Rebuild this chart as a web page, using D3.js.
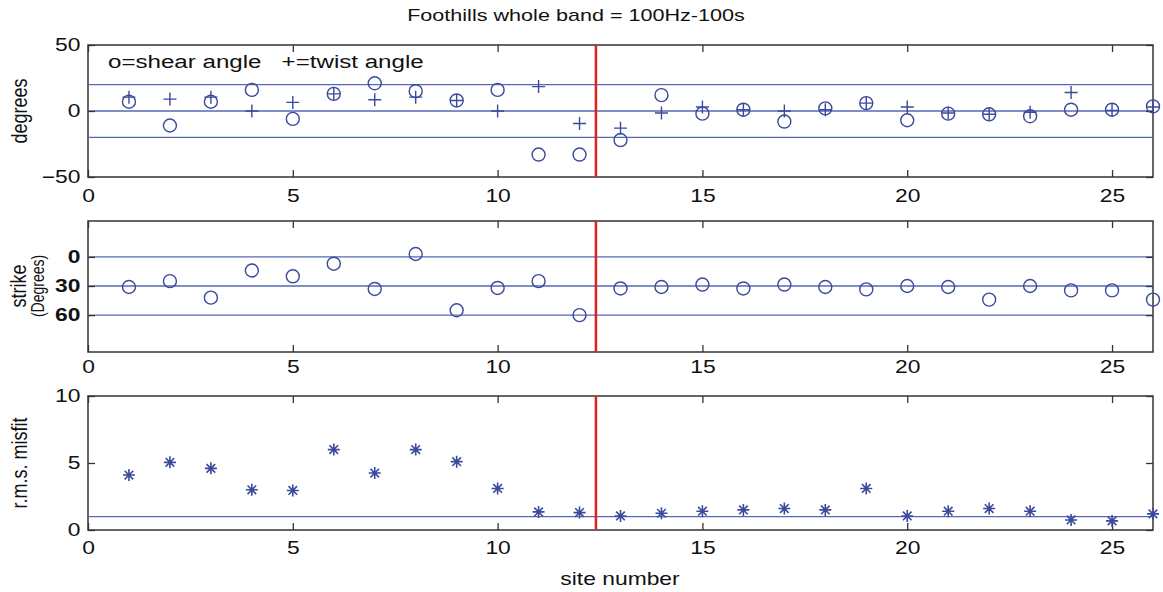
<!DOCTYPE html>
<html>
<head>
<meta charset="utf-8">
<script src="https://cdn.jsdelivr.net/npm/d3@7"></script>
<style>
  body { margin: 0; background: #fff; }
  svg text { font-family: Arial, 'Liberation Sans', Helvetica, sans-serif; fill: #111; }
</style>
</head>
<body>
<div id="chart"></div>
<script>
// site numbers and values
const sites = [1, 2, 3, 4, 5, 6, 7, 8, 9, 10, 11, 12, 13, 14, 15, 16, 17, 18, 19, 20, 21, 22, 23, 24, 25, 26];
const shear = [7, -11, 7, 16, -6, 13, 21, 15, 8, 16, -33, -33, -22, 12, -2, 1, -8, 2, 6, -7, -2, -2.5, -4, 1, 1, 3.5];
const twist = [10.5, 9, 10.5, 0, 6.5, 13, 8.5, 10.5, 8, 0, 18.5, -9.5, -13, -1.5, 3, 1, 0, 1, 6, 3, -1.5, -2.5, -1, 14, 0.5, 3];
const strike = [31, 25, 42, 14, 20, 7, 33, -3, 55, 32, 25, 60, 32.5, 31, 28.5, 32.5, 28.5, 31, 33.5, 30, 31, 44, 30, 34.5, 34.5, 44];
const misfit = [4.1, 5.05, 4.6, 3.0, 2.95, 6.0, 4.25, 6.0, 5.1, 3.1, 1.35, 1.3, 1.05, 1.25, 1.4, 1.5, 1.6, 1.5, 3.1, 1.05, 1.4, 1.6, 1.4, 0.75, 0.68, 1.2];

const xTicks = [0, 5, 10, 15, 20, 25];
const degreeTicks = [-50, 0, 50];
const strikeTicks = [0, 30, 60];
const misfitTicks = [0, 5, 10];
const degreeRefs = [20, 0, -20];
const strikeRefs = [0, 30, 60];
const misfitRefs = [1];
const splitSite = 12.4;

const width = 1163;
const height = 592;
const markColor = '#3a4a9c';
const refColor = '#5767b4';
const boxColor = '#333';
// the original figure is stretched sideways, so text is widened to match
const wide = 'scale(1.27,1)';

const svg = d3.select('#chart')
  .append('svg')
  .attr('width', width)
  .attr('height', height);

const x = d3.scaleLinear().domain([0, 26]).range([88, 1153]);

// title
svg.append('text')
  .attr('transform', 'translate(576,21) ' + wide)
  .attr('text-anchor', 'middle')
  .style('font-size', '17px')
  .text('Foothills whole band = 100Hz-100s');

function panel(y, yTicks, refs, pad, bold) {
  const g = svg.append('g');
  const [y0, y1] = [y.range()[0], y.range()[1]];
  const top = Math.min(y0, y1), bottom = Math.max(y0, y1);

  g.append('rect')
    .attr('x', x(0))
    .attr('y', top)
    .attr('width', x(26) - x(0))
    .attr('height', bottom - top)
    .attr('fill', 'none')
    .attr('stroke', boxColor)
    .attr('stroke-width', 1.5);

  // reference lines
  g.selectAll('.ref')
    .data(refs)
    .join('line')
    .attr('class', 'ref')
    .attr('x1', x(0))
    .attr('x2', x(26))
    .attr('y1', (d) => y(d))
    .attr('y2', (d) => y(d))
    .attr('stroke', refColor)
    .attr('stroke-width', 1.3);

  // split line
  g.append('line')
    .attr('x1', x(splitSite))
    .attr('x2', x(splitSite))
    .attr('y1', top)
    .attr('y2', bottom)
    .attr('stroke', '#e0201c')
    .attr('stroke-width', 2.5);

  const styleAxis = (a) => {
    a.select('.domain').remove();
    a.selectAll('.tick line').attr('stroke', boxColor).attr('stroke-width', 1.3);
    a.selectAll('.tick text')
      .style('font-size', '18px')
      .attr('fill', '#111')
      .attr('transform', wide);
  };

  g.append('g')
    .attr('transform', 'translate(0,' + bottom + ')')
    .call(d3.axisBottom(x).tickValues(xTicks).tickFormat(d3.format('d')).tickSizeInner(-7).tickSizeOuter(0).tickPadding(pad))
    .call(styleAxis);

  g.append('g')
    .attr('transform', 'translate(0,' + top + ')')
    .call(d3.axisTop(x).tickValues(xTicks).tickFormat('').tickSizeInner(-7).tickSizeOuter(0))
    .call(styleAxis);

  g.append('g')
    .attr('transform', 'translate(' + x(0) + ',0)')
    .call(d3.axisLeft(y).tickValues(yTicks).tickFormat(d3.format('d')).tickSizeInner(-7).tickSizeOuter(0).tickPadding(6))
    .call(styleAxis)
    .selectAll('.tick text')
    .style('font-weight', bold ? 'bold' : 'normal');

  g.append('g')
    .attr('transform', 'translate(' + x(26) + ',0)')
    .call(d3.axisRight(y).tickValues(yTicks).tickFormat('').tickSizeInner(-7).tickSizeOuter(0))
    .call(styleAxis);

  return g;
}

const circles = (g, y, values) => g.selectAll(null)
  .data(sites)
  .join('circle')
  .attr('cx', (d) => x(d))
  .attr('cy', (d, i) => y(values[i]))
  .attr('r', 6.5)
  .attr('fill', 'none')
  .attr('stroke', markColor)
  .attr('stroke-width', 1.4);

const yLabel = (text, px, py, size) => svg.append('text')
  .attr('transform', 'translate(' + px + ',' + py + ') ' + wide + ' rotate(-90)')
  .attr('text-anchor', 'middle')
  .style('font-size', size)
  .text(text);

// ---- top panel: shear and twist angles
const yDeg = d3.scaleLinear().domain([-50, 50]).range([177, 45]);
const gTop = panel(yDeg, degreeTicks, degreeRefs, 12, false);
circles(gTop, yDeg, shear);
gTop.selectAll(null)
  .data(sites)
  .join('path')
  .attr('d', (d, i) => {
    const cx = x(d), cy = yDeg(twist[i]), s = 6.5;
    return `M${cx - s},${cy}H${cx + s}M${cx},${cy - s}V${cy + s}`;
  })
  .attr('fill', 'none')
  .attr('stroke', markColor)
  .attr('stroke-width', 1.4);

svg.append('text')
  .attr('transform', 'translate(108,68) ' + wide)
  .style('font-size', '19px')
  .attr('xml:space', 'preserve')
  .text('o=shear angle   +=twist angle');

yLabel('degrees', 27, 111, '18px');

// ---- middle panel: strike
const yStrike = d3.scaleLinear().domain([-37, 98]).range([221, 352]);
const gMid = panel(yStrike, strikeTicks, strikeRefs, 8, true);
circles(gMid, yStrike, strike);

yLabel('strike', 26, 286, '18px');
yLabel('(Degrees)', 44, 286, '14px');

// ---- bottom panel: rms misfit
const yMis = d3.scaleLinear().domain([0, 10]).range([530, 396]);
const gBot = panel(yMis, misfitTicks, misfitRefs, 11, false);
const star = d3.symbol().type({
  draw(ctx) {
    const s = 6, d = 4.3;
    ctx.moveTo(-s, 0); ctx.lineTo(s, 0);
    ctx.moveTo(0, -s); ctx.lineTo(0, s);
    ctx.moveTo(-d, -d); ctx.lineTo(d, d);
    ctx.moveTo(-d, d); ctx.lineTo(d, -d);
  }
});
gBot.selectAll(null)
  .data(sites)
  .join('path')
  .attr('transform', (d, i) => 'translate(' + x(d) + ',' + yMis(misfit[i]) + ')')
  .attr('d', star)
  .attr('fill', 'none')
  .attr('stroke', markColor)
  .attr('stroke-width', 1.6);

yLabel('r.m.s. misfit', 27, 463, '18px');

svg.append('text')
  .attr('transform', 'translate(620,585) ' + wide)
  .attr('text-anchor', 'middle')
  .style('font-size', '18px')
  .text('site number');
</script>
</body>
</html>
